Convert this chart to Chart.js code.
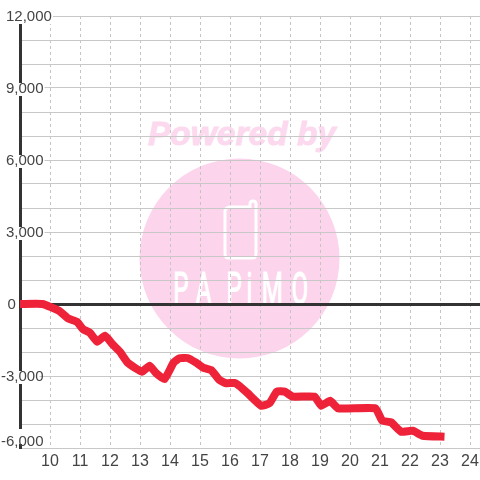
<!DOCTYPE html>
<html>
<head>
<meta charset="utf-8">
<style>
html,body{margin:0;padding:0;background:#fff;}
#wrap{position:relative;width:480px;height:480px;}
#mark{position:absolute;left:0;top:0;}
#cv{position:absolute;left:0;top:0;}
</style>
<script src="https://cdn.jsdelivr.net/npm/chart.js@4"></script>
</head>
<body>
<div id="wrap">
  <svg id="mark" width="480" height="480">
    <text x="148" y="145" textLength="188" lengthAdjust="spacingAndGlyphs" font-family="Liberation Sans" font-weight="bold" font-style="italic" font-size="33" fill="#fcd9ee" stroke="#fcd9ee" stroke-width="0.8">Powered by</text>
    <circle cx="239.5" cy="258.5" r="100" fill="#fcd5ec"/>
    <path d="M232 206 H250 V203 Q250 200 253 200 Q256 200 256 203 V253 Q256 257 252 257 H229 Q225 257 225 253 V210 Q225 206 232 206" transform="translate(0,1)" fill="none" stroke="#fff" stroke-width="3"/>
    <g transform="scale(0.55,1)" font-family="Roboto" font-size="44" fill="#fff" stroke="#fff" stroke-width="1.2">
      <text x="315 356 412 448 476 530" y="304">PAPiMO</text>
    </g>
  </svg>
  <canvas id="cv" width="480" height="480"></canvas>
</div>
<script>
const hours = [9,9.75,10.3,10.6,10.9,11.1,11.33,11.57,11.83,12.1,12.33,12.6,13.07,13.32,13.54,13.82,14.12,14.32,14.58,14.87,15.1,15.37,15.65,15.87,16.15,16.32,16.59,17.04,17.32,17.56,17.82,18.09,18.82,19.04,19.34,19.6,20.85,21.07,21.37,21.7,22.09,22.42,23.15];
const profit = [0,0,-280,-600,-740,-1050,-1200,-1570,-1320,-1700,-1990,-2460,-2820,-2570,-2890,-3125,-2445,-2260,-2250,-2445,-2650,-2750,-3170,-3300,-3290,-3420,-3720,-4240,-4130,-3650,-3650,-3860,-3860,-4240,-4030,-4350,-4350,-4860,-4930,-5320,-5280,-5490,-5530];
const labelledEvery = 3000;

// nudge y labels: negatives further left, lone 0 further right, bottom one lifted off the axis end
const shiftLabels = {
  id: "shiftLabels",
  beforeDraw(chart) {
    chart.scales.y.getLabelItems().forEach(it => {
      if (it.shifted) return;
      it.shifted = true;
      const dx = it.label === "0" ? 1.5 : it.label[0] === "-" ? -5 : 0;
      const dy = it.label === "-6,000" ? -6.5 : 0.5;
      const b = it.options.backdrop;
      it.options.translation[0] += dx;
      it.options.translation[1] += dy;
      if (b) {
        b.left += dx;
        b.top += dy;
        if (it.label === "-6,000") b.height += 2;
      }
    });
  }
};

new Chart(document.getElementById("cv"), {
  type: "line",
  data: {
    datasets: [{
      data: hours.map((h, i) => ({x: h, y: profit[i]})),
      borderColor: "#ee2238",
      borderWidth: 8,
      tension: 0.12,
      pointRadius: 0,
      borderCapStyle: "butt",
      borderJoinStyle: "round",
      clip: false
    }]
  },
  plugins: [shiftLabels],
  options: {
    responsive: false,
    animation: false,
    events: [],
    layout: {padding: {left: 6, top: 16, right: 0, bottom: 0}},
    plugins: {legend: {display: false}, tooltip: {enabled: false}},
    scales: {
      x: {
        type: "linear",
        min: 9,
        max: 24.333,
        afterFit: s => { s.height = 32; s.paddingLeft = 0; s.paddingRight = 0; },
        grid: {color: "#c4c4c4", lineWidth: 1, drawTicks: false},
        border: {display: false, dash: [3, 3]},
        ticks: {
          stepSize: 1,
          includeBounds: false,
          autoSkip: false,
          maxRotation: 0,
          padding: 4,
          color: "#444",
          font: {family: "Liberation Sans", size: 16},
          callback: v => (v === 9 ? "" : String(v))
        }
      },
      y: {
        min: -6000,
        max: 12000,
        afterFit: s => { s.width = 14; },
        grid: {
          color: c => (c.tick.value === 0 ? "#333" : "#c8c8c8"),
          lineWidth: c => (c.tick.value === 0 ? 3 : 1),
          drawTicks: false
        },
        border: {display: true, color: "#333", width: 3},
        ticks: {
          stepSize: 1000,
          autoSkip: false,
          mirror: true,
          padding: -14,
          color: "#444",
          font: {family: "Liberation Sans", size: 15},
          showLabelBackdrop: c => c.tick.value % labelledEvery === 0,
          backdropColor: "#fff",
          backdropPadding: {top: -3, bottom: -2, left: 1, right: 1},
          callback: v => (v % labelledEvery === 0 ? v.toLocaleString("en-US") : "")
        }
      }
    }
  }
});
</script>
</body>
</html>
